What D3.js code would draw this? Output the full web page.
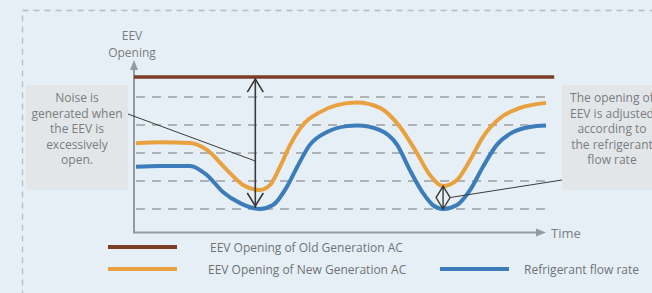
<!DOCTYPE html>
<html>
<head>
<meta charset="utf-8">
<script src="https://cdn.jsdelivr.net/npm/d3@7"></script>
<style>
  html, body { margin: 0; padding: 0; background: #e6eff5; }
  svg { display: block; font-family: "Open Sans", sans-serif; }
</style>
</head>
<body>
<div id="chart"></div>
<script>
/**
 * DATA
 * time runs 0..100, opening level 0..6 (grid at 1..5)
 * */
const gridLevels = [1, 2, 3, 4, 5];
const oldGenLevel = 5.71;

// [time, opening]
const newGenSeries = [
  [0, 3.35], [5.9, 3.38], [13.2, 3.36], [17.3, 3.11], [22.2, 2.39], [26.1, 1.86],
  [30.2, 1.68], [32.7, 1.86], [35.1, 2.5], [37.6, 3.29], [40.7, 4.0], [44.9, 4.46],
  [49, 4.71], [53.9, 4.8], [59.5, 4.61], [64.4, 3.93], [68.5, 3.0], [71.7, 2.21],
  [74.9, 1.82], [78.3, 2.04], [81.5, 2.75], [84.6, 3.57], [88.8, 4.25], [93.7, 4.61],
  [100, 4.79]
];

const flowSeries = [
  [0, 2.51], [5.9, 2.54], [13.2, 2.54], [17.3, 2.21], [21.2, 1.61], [25.4, 1.21],
  [30.2, 1.0], [33.4, 1.14], [36.8, 1.79], [39.3, 2.5], [42.4, 3.29], [46.6, 3.75],
  [51.5, 3.96], [53.9, 3.98], [59.5, 3.82], [63.7, 3.29], [66.8, 2.39], [70, 1.57],
  [72.4, 1.14], [74.9, 1.0], [78.3, 1.14], [81.5, 1.68], [84.6, 2.5], [88, 3.29],
  [92, 3.75], [96.1, 3.93], [100, 3.98]
];

const legendItems = [
  { label: "EEV Opening of Old Generation AC", color: "#7b3e24" },
  { label: "EEV Opening of New Generation AC", color: "#e9a03f" },
  { label: "Refrigerant flow rate", color: "#3d7cbb" }
];

const leftNote = ["Noise is", "generated when", "the EEV is", "excessively", "open."];
const rightNote = ["The opening of", "EEV is adjusted", "according to", "the refrigerant", "flow rate"];

/**
 * CONSTANTS
 * */
const width = 652, height = 293;
const x = d3.scaleLinear().domain([0, 100]).range([136, 546]);
const y = d3.scaleLinear().domain([0, 6]).range([237, 69]);
const axisX = 134, axisY = 232.5;

let svg = d3.select("#chart").append("svg")
  .attr("width", width)
  .attr("height", height);

svg.append("rect").attr("width", width).attr("height", height).attr("fill", "#e6eff5");

// dashed frame, runs off the page on the right and bottom
svg.append("rect")
  .attr("x", 22.5).attr("y", 10.5)
  .attr("width", 700).attr("height", 400)
  .attr("fill", "none")
  .attr("stroke", "#b9bdc0")
  .attr("stroke-width", 1.3)
  .attr("stroke-dasharray", "6,5");

// grid
svg.selectAll(".grid")
  .data(gridLevels)
  .join("line")
  .attr("class", "grid")
  .attr("x1", x(0)).attr("x2", x(100))
  .attr("y1", d => y(d)).attr("y2", d => y(d))
  .attr("stroke", "#777")
  .attr("stroke-width", 1)
  .attr("stroke-dasharray", "9,7");

// axes
const axisColor = "#959a9e";
svg.append("line")
  .attr("x1", axisX).attr("x2", axisX)
  .attr("y1", axisY).attr("y2", 68)
  .attr("stroke", axisColor).attr("stroke-width", 2);
svg.append("path")
  .attr("d", `M${axisX - 4},${70} L${axisX},${60} L${axisX + 4},${70} Z`)
  .attr("fill", axisColor);
svg.append("line")
  .attr("x1", axisX - 1).attr("x2", 538)
  .attr("y1", axisY).attr("y2", axisY)
  .attr("stroke", axisColor).attr("stroke-width", 2);
svg.append("path")
  .attr("d", `M536,${axisY - 4} L546,${axisY} L536,${axisY + 4} Z`)
  .attr("fill", axisColor);

svg.append("text")
  .attr("x", 551).attr("y", 237.5)
  .attr("fill", "#7a7d80").attr("font-size", 13)
  .text("Time");

svg.append("text")
  .attr("text-anchor", "middle")
  .attr("fill", "#7a7d80").attr("font-size", 12)
  .selectAll("tspan")
  .data(["EEV", "Opening"])
  .join("tspan")
  .attr("x", 132)
  .attr("y", (d, i) => 40 + i * 17)
  .text(d => d);

// series
const line = d3.line()
  .x(d => x(d[0]))
  .y(d => y(d[1]))
  .curve(d3.curveMonotoneX);

svg.append("line")
  .attr("x1", x(-0.5)).attr("x2", x(102))
  .attr("y1", y(oldGenLevel)).attr("y2", y(oldGenLevel))
  .attr("stroke", legendItems[0].color)
  .attr("stroke-width", 3.5);

svg.append("path")
  .datum(newGenSeries)
  .attr("d", line)
  .attr("fill", "none")
  .attr("stroke", legendItems[1].color)
  .attr("stroke-width", 4);

svg.append("path")
  .datum(flowSeries)
  .attr("d", line)
  .attr("fill", "none")
  .attr("stroke", legendItems[2].color)
  .attr("stroke-width", 4);

// annotations
const noteColor = "#3a3a3a";
const arrowT = 29.1;
svg.append("line")
  .attr("x1", x(arrowT)).attr("x2", x(arrowT))
  .attr("y1", y(oldGenLevel) + 1).attr("y2", y(1) - 1)
  .attr("stroke", noteColor).attr("stroke-width", 1.6);
svg.append("path")
  .attr("d", `M${x(arrowT) - 8},${y(oldGenLevel) + 15} L${x(arrowT)},${y(oldGenLevel) + 2} L${x(arrowT) + 8},${y(oldGenLevel) + 15}`
    + ` M${x(arrowT) - 8},${y(1) - 16} L${x(arrowT)},${y(1) - 3} L${x(arrowT) + 8},${y(1) - 16}`)
  .attr("fill", "none").attr("stroke", noteColor).attr("stroke-width", 1.6);

const diaT = 74.9, diaTop = 1.82, diaBot = 1.0;
const diaMid = (y(diaTop) + y(diaBot)) / 2;
svg.append("path")
  .attr("d", `M${x(diaT)},${y(diaTop)} L${x(diaT) + 7},${diaMid} L${x(diaT)},${y(diaBot)} L${x(diaT) - 7},${diaMid} Z`
    + ` M${x(diaT)},${y(diaTop)} L${x(diaT)},${y(diaBot)}`)
  .attr("fill", "none").attr("stroke", noteColor).attr("stroke-width", 1.4);

// note boxes
function noteBox(bx, by, bw, bh, cx, lines) {
  svg.append("rect")
    .attr("x", bx).attr("y", by).attr("width", bw).attr("height", bh)
    .attr("fill", "#e3e6e8");
  svg.append("text")
    .attr("text-anchor", "middle")
    .attr("fill", "#7a7d80").attr("font-size", 12)
    .selectAll("tspan")
    .data(lines)
    .join("tspan")
    .attr("x", cx)
    .attr("y", (d, i) => by + 17 + i * 15.5)
    .text(d => d);
}
noteBox(26, 85, 102, 105, 77, leftNote);
noteBox(562, 85, 100, 105, 612, rightNote);

svg.append("line")
  .attr("x1", 128).attr("y1", 114)
  .attr("x2", x(arrowT)).attr("y2", 161)
  .attr("stroke", noteColor).attr("stroke-width", 1);
svg.append("line")
  .attr("x1", x(diaT) + 7).attr("y1", diaMid)
  .attr("x2", 562).attr("y2", 180)
  .attr("stroke", noteColor).attr("stroke-width", 1);

// legend
const legendPos = [
  { lx: 108, ly: 247, tx: 210 },
  { lx: 108, ly: 269, tx: 208 },
  { lx: 440, ly: 269, tx: 524 }
];
const legend = svg.selectAll(".legend")
  .data(legendItems)
  .join("g")
  .attr("class", "legend");
legend.append("line")
  .attr("x1", (d, i) => legendPos[i].lx)
  .attr("x2", (d, i) => legendPos[i].lx + 69)
  .attr("y1", (d, i) => legendPos[i].ly)
  .attr("y2", (d, i) => legendPos[i].ly)
  .attr("stroke", d => d.color)
  .attr("stroke-width", 4);
legend.append("text")
  .attr("x", (d, i) => legendPos[i].tx)
  .attr("y", (d, i) => legendPos[i].ly + 4.5)
  .attr("fill", "#6f7275")
  .attr("font-size", 12)
  .text(d => d.label);
</script>
</body>
</html>
